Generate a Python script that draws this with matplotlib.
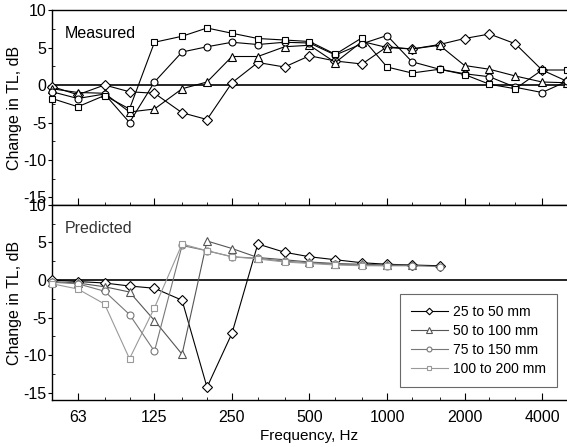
import numpy as np
import matplotlib.pyplot as plt
from matplotlib.ticker import FixedLocator, NullFormatter, FixedFormatter

plt.rcParams['font.family'] = ['Liberation Sans', 'DejaVu Sans']
plt.rcParams['axes.unicode_minus'] = False

# one-third octave band centres, Hz
bands = [50, 63, 80, 100, 125, 160, 200, 250, 315, 400, 500, 630, 800,
         1000, 1250, 1600, 2000, 2500, 3150, 4000, 5000]
octaves = [63, 125, 250, 500, 1000, 2000, 4000]
series_names = ['25 to 50 mm', '50 to 100 mm', '75 to 150 mm', '100 to 200 mm']

# measured change in TL, dB (50 Hz .. 5000 Hz)
meas_25_50 = [-0.2, -1.3, 0.0, -0.9, -1.1, -3.7, -4.6, 0.3, 3.0, 2.4, 3.9,
              3.2, 2.8, 5.1, 4.8, 5.4, 6.2, 6.8, 5.5, 2.0, 0.5]
meas_50_100 = [-0.5, -1.0, -1.1, -3.6, -3.2, -0.5, 0.4, 3.8, 3.8, 5.1, 5.3,
               3.0, 5.8, 5.0, 4.8, 5.3, 2.6, 2.1, 1.2, 0.4, 0.3]
meas_75_150 = [-0.9, -1.8, -1.2, -5.0, 0.4, 4.4, 5.1, 5.7, 5.4, 5.7, 5.6,
               4.0, 5.5, 6.6, 3.1, 2.1, 1.5, 1.1, -0.3, -1.0, 0.5]
meas_100_200 = [-1.8, -2.9, -1.4, -3.2, 5.7, 6.5, 7.6, 6.9, 6.2, 6.0, 5.8,
                4.1, 6.3, 2.4, 1.6, 2.1, 1.4, 0.1, -0.5, 2.0, 2.0]

# predicted change in TL, dB (series stop at different bands)
pred_25_50 = [0.0, -0.2, -0.4, -0.8, -1.1, -2.7, -14.3, -7.1, 4.8, 3.7, 3.1,
              2.7, 2.3, 2.1, 2.0, 1.9]
pred_50_100 = [-0.2, -0.4, -0.9, -1.6, -5.4, -9.9, 5.2, 4.2, 3.0, 2.7, 2.4,
               2.2, 2.1, 2.0, 2.0]
pred_75_150 = [-0.3, -0.5, -1.5, -4.6, -9.5, 4.6, 3.9, 3.1, 2.9, 2.5, 2.3,
               2.1, 2.0, 1.9, 1.9, 1.8]
pred_100_200 = [-0.5, -1.2, -3.2, -10.5, -3.7, 4.8, 3.9, 3.1, 2.8, 2.4, 2.2,
                2.0, 1.9, 1.9]

measured = [meas_25_50, meas_50_100, meas_75_150, meas_100_200]
predicted = [pred_25_50, pred_50_100, pred_75_150, pred_100_200]
markers = ['D', '^', 'o', 's']
msizes = [4.8, 5.5, 5.0, 4.5]
pred_colors = ['black', '#555555', '#777777', '#999999']

fig = plt.figure(figsize=(5.67, 4.47), dpi=100)
ax1 = fig.add_axes([0.0917, 0.5414, 0.9083, 0.4362])
ax2 = fig.add_axes([0.0917, 0.1051, 0.9083, 0.4363])


def style_axes(ax, show_labels):
    ax.set_xscale('log')
    ax.set_xlim(50, 5000)
    ax.set_ylim(-16, 10)
    ax.xaxis.set_major_locator(FixedLocator(octaves))
    ax.xaxis.set_minor_locator(FixedLocator([b for b in bands if b not in octaves]))
    ax.xaxis.set_minor_formatter(NullFormatter())
    if show_labels:
        ax.xaxis.set_major_formatter(FixedFormatter([str(o) for o in octaves]))
    else:
        ax.xaxis.set_major_formatter(NullFormatter())
    ax.set_yticks([-15, -10, -5, 0, 5, 10])
    ax.set_yticks(np.arange(-15, 10, 2.5), minor=True)
    ax.tick_params(axis='x', which='major', direction='in', length=5, width=0.8,
                   labelsize=11.5, pad=7)
    ax.tick_params(axis='x', which='minor', direction='in', length=2.5, width=0.6)
    ax.tick_params(axis='y', which='major', direction='out', length=3, width=0.8,
                   labelsize=11.5, pad=1)
    ax.tick_params(axis='y', which='minor', direction='in', length=2, width=0.6)
    ax.spines['right'].set_visible(False)
    for s in ['left', 'top', 'bottom']:
        ax.spines[s].set_linewidth(1.0)
    ax.axhline(0, color='black', lw=1.2, zorder=1)
    ax.set_ylabel('Change in TL, dB', fontsize=11.5, labelpad=1)


style_axes(ax1, False)
style_axes(ax2, True)

# measured panel
for vals, m, ms in zip(measured, markers, msizes):
    ax1.plot(bands[:len(vals)], vals, color='black', lw=0.8, marker=m, ms=ms,
             mfc='white', mec='black', mew=0.8, clip_on=False, zorder=3)
ax1.text(0.025, 0.88, 'Measured', transform=ax1.transAxes, fontsize=11.5,
         va='center', ha='left')

# predicted panel
for vals, m, ms, c, name in zip(predicted, markers, msizes, pred_colors, series_names):
    ax2.plot(bands[:len(vals)], vals, color=c, lw=0.8, marker=m, ms=ms,
             mfc='white', mec=c, mew=0.8, clip_on=False, zorder=3, label=name)
ax2.text(0.025, 0.88, 'Predicted', transform=ax2.transAxes, fontsize=11.5,
         va='center', ha='left', color='#333333')

leg = ax2.legend(loc='lower right', bbox_to_anchor=(0.981, 0.067), fontsize=10,
                 frameon=True, fancybox=False, markerscale=0.7, handlelength=2.6,
                 borderpad=0.8, labelspacing=0.35, handletextpad=0.4,
                 borderaxespad=0)
leg.get_frame().set_edgecolor('#444444')
leg.get_frame().set_linewidth(0.8)

ax2.set_xlabel('Frequency, Hz', fontsize=11, labelpad=3)

fig.savefig('out.png', dpi=100)
